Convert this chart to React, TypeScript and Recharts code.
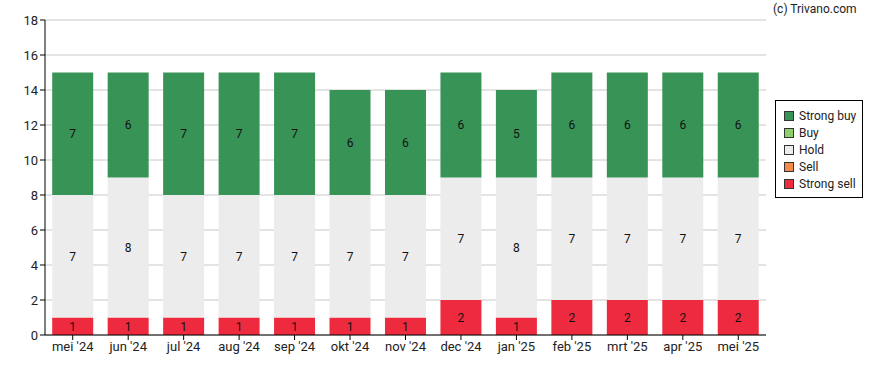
import { BarChart, Bar, XAxis, YAxis, CartesianGrid, LabelList } from 'recharts';

const months = ["mei '24", "jun '24", "jul '24", "aug '24", "sep '24", "okt '24", "nov '24", "dec '24", "jan '25", "feb '25", "mrt '25", "apr '25", "mei '25"];
const strongSell = [1, 1, 1, 1, 1, 1, 1, 2, 1, 2, 2, 2, 2];
const sell = [0, 0, 0, 0, 0, 0, 0, 0, 0, 0, 0, 0, 0];
const hold = [7, 8, 7, 7, 7, 7, 7, 7, 8, 7, 7, 7, 7];
const buy = [0, 0, 0, 0, 0, 0, 0, 0, 0, 0, 0, 0, 0];
const strongBuy = [7, 6, 7, 7, 7, 6, 6, 6, 5, 6, 6, 6, 6];
const yTicks = [0, 2, 4, 6, 8, 10, 12, 14, 16, 18];

const series = [
  { key: 'strongSell', name: 'Strong sell', color: '#EE2B3E' },
  { key: 'sell', name: 'Sell', color: '#F5894A' },
  { key: 'hold', name: 'Hold', color: '#ECECEC' },
  { key: 'buy', name: 'Buy', color: '#8FD06E' },
  { key: 'strongBuy', name: 'Strong buy', color: '#389357' },
];

const data = months.map((m, i) => ({
  month: m,
  strongSell: strongSell[i],
  sell: sell[i],
  hold: hold[i],
  buy: buy[i],
  strongBuy: strongBuy[i],
}));

const font = 'Roboto, "Liberation Sans", Arial, sans-serif';

// hide zero labels
const fmt = (v: any) => (v ? v : '');

export default function App() {
  return (
    <div style={{ position: 'absolute', left: 0, top: 0, width: 888, height: 370, fontFamily: font }}>
      <BarChart
        width={888}
        height={370}
        data={data}
        margin={{ top: 20, right: 122, bottom: 5, left: 0 }}
        barCategoryGap="13%"
      >
        <CartesianGrid vertical={false} stroke="#C8C8C8" />
        <XAxis
          dataKey="month"
          height={30}
          stroke="#000"
          tick={{ fill: '#222', fontSize: 13, fontFamily: font }}
          tickLine={{ stroke: '#000' }}
          tickSize={5}
          interval={0}
        />
        <YAxis
          width={45}
          domain={[0, 18]}
          ticks={yTicks}
          stroke="#000"
          tick={{ fill: '#222', fontSize: 13, fontFamily: font }}
          tickSize={5}
          interval={0}
        />
        {series.map((s) => (
          <Bar key={s.key} dataKey={s.key} stackId="a" fill={s.color} isAnimationActive={false}>
            <LabelList
              dataKey={s.key}
              position="center"
              formatter={fmt}
              style={{ fill: '#111', fontSize: 12, fontFamily: font }}
            />
          </Bar>
        ))}
      </BarChart>
      <div style={{ position: 'absolute', left: 773, top: 2, fontSize: 12, color: '#222' }}>(c) Trivano.com</div>
      <div
        style={{
          position: 'absolute',
          left: 775,
          top: 100,
          width: 88,
          border: '1px solid #000',
          padding: '6px 0 5px 8px',
          boxSizing: 'border-box',
          background: '#fff',
        }}
      >
        {[...series].reverse().map((s) => (
          <div key={s.key} style={{ display: 'flex', alignItems: 'center', height: 17, fontSize: 12, color: '#222' }}>
            <span
              style={{
                display: 'inline-block',
                width: 8,
                height: 8,
                background: s.color,
                border: '1px solid #333',
                marginRight: 5,
              }}
            />
            {s.name}
          </div>
        ))}
      </div>
    </div>
  );
}
